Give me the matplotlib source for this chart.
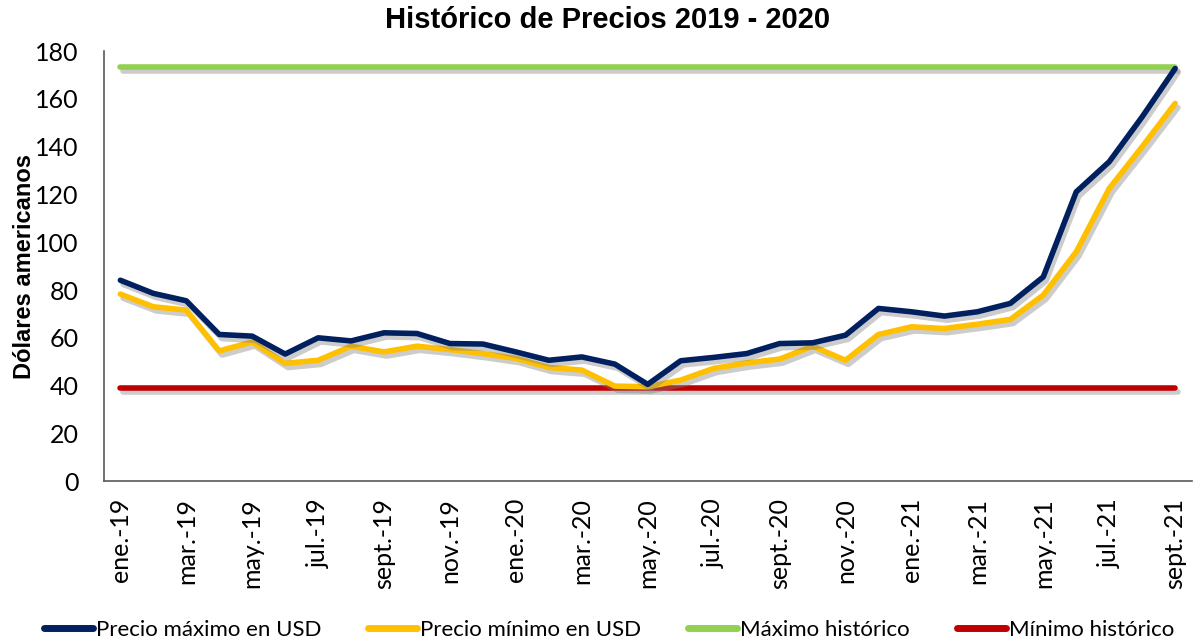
import matplotlib
matplotlib.use('Agg')
import matplotlib.pyplot as plt
import matplotlib.patheffects as pe

meses = ["ene.-19", "feb.-19", "mar.-19", "abr.-19", "may.-19", "jun.-19", "jul.-19", "ago.-19",
         "sept.-19", "oct.-19", "nov.-19", "dic.-19", "ene.-20", "feb.-20", "mar.-20", "abr.-20",
         "may.-20", "jun.-20", "jul.-20", "ago.-20", "sept.-20", "oct.-20", "nov.-20", "dic.-20",
         "ene.-21", "feb.-21", "mar.-21", "abr.-21", "may.-21", "jun.-21", "jul.-21", "ago.-21",
         "sept.-21"]

precio_max = [84.1, 78.6, 75.5, 61.4, 60.7, 53.2, 60.0, 58.7, 62.1, 61.8, 57.6, 57.4,
              54.1, 50.6, 52.0, 49.0, 40.5, 50.4, 51.8, 53.4, 57.6, 57.9, 61.1, 72.3,
              70.9, 69.1, 70.9, 74.4, 85.5, 121.1, 133.7, 152.5, 172.7]
precio_min = [78.3, 73.0, 71.6, 54.5, 58.3, 49.3, 50.6, 56.5, 54.1, 56.5, 55.1, 53.4,
              51.4, 47.6, 46.5, 39.8, 39.5, 42.3, 47.2, 49.5, 51.1, 56.5, 50.6, 61.4,
              64.6, 63.9, 65.7, 67.7, 77.9, 96.0, 122.5, 140.0, 158.1]
maximo_historico = 173.3
minimo_historico = 38.9

x = list(range(len(meses)))
sombra = [pe.SimpleLineShadow(offset=(2, -3), shadow_color='gray', alpha=0.4), pe.Normal()]

fig, ax = plt.subplots(figsize=(11.94, 6.39), dpi=100)
fig.subplots_adjust(left=0.087, right=0.998, top=0.92, bottom=0.247)

ax.plot(x, precio_max, color='#002060', lw=4, label='Precio máximo en USD',
        solid_capstyle='round', path_effects=sombra, zorder=4)
ax.plot(x, precio_min, color='#FFC000', lw=4, label='Precio mínimo en USD',
        solid_capstyle='round', path_effects=sombra, zorder=3)
ax.plot(x, [maximo_historico] * len(x), color='#92D050', lw=4, label='Máximo histórico',
        solid_capstyle='round', path_effects=sombra, zorder=2)
ax.plot(x, [minimo_historico] * len(x), color='#C00000', lw=4, label='Mínimo histórico',
        solid_capstyle='round', path_effects=sombra, zorder=2)

ax.set_xlim(-0.5, len(x) - 0.5)
ax.set_ylim(0, 180)
ax.set_yticks(range(0, 181, 20))
ax.set_xticks(x[::2])
ax.set_xticklabels(meses[::2], rotation=90, fontsize=18, family='Lato')
for lab in ax.get_yticklabels():
    lab.set_fontsize(18)
    lab.set_family('Lato')
ax.tick_params(axis='x', length=0, pad=12)
ax.tick_params(axis='y', length=0, pad=18)

for s in ['top', 'right']:
    ax.spines[s].set_visible(False)
ax.spines['left'].set_color('#595959')
ax.spines['bottom'].set_color('#595959')
ax.spines['left'].set_linewidth(1.2)
ax.spines['bottom'].set_linewidth(1.2)

fig.text(0.509, 0.968, 'Histórico de Precios 2019 - 2020', fontsize=21, fontweight='bold',
         family='Liberation Sans', ha='center', va='center')
ax.set_ylabel('Dólares americanos', fontsize=17, fontweight='bold', family='Liberation Sans',
              va='center')
ax.yaxis.set_label_coords(-0.073, 0.5)

leg = fig.legend(loc='lower center', ncol=4, frameon=False, bbox_to_anchor=(0.51, -0.033),
                 prop={'family': 'Lato', 'size': 16}, handlelength=2.2, handletextpad=0.15,
                 columnspacing=2.1)
for line in leg.get_lines():
    line.set_path_effects([])
    line.set_linewidth(5)

fig.savefig('out.png', dpi=100)
plt.close()
